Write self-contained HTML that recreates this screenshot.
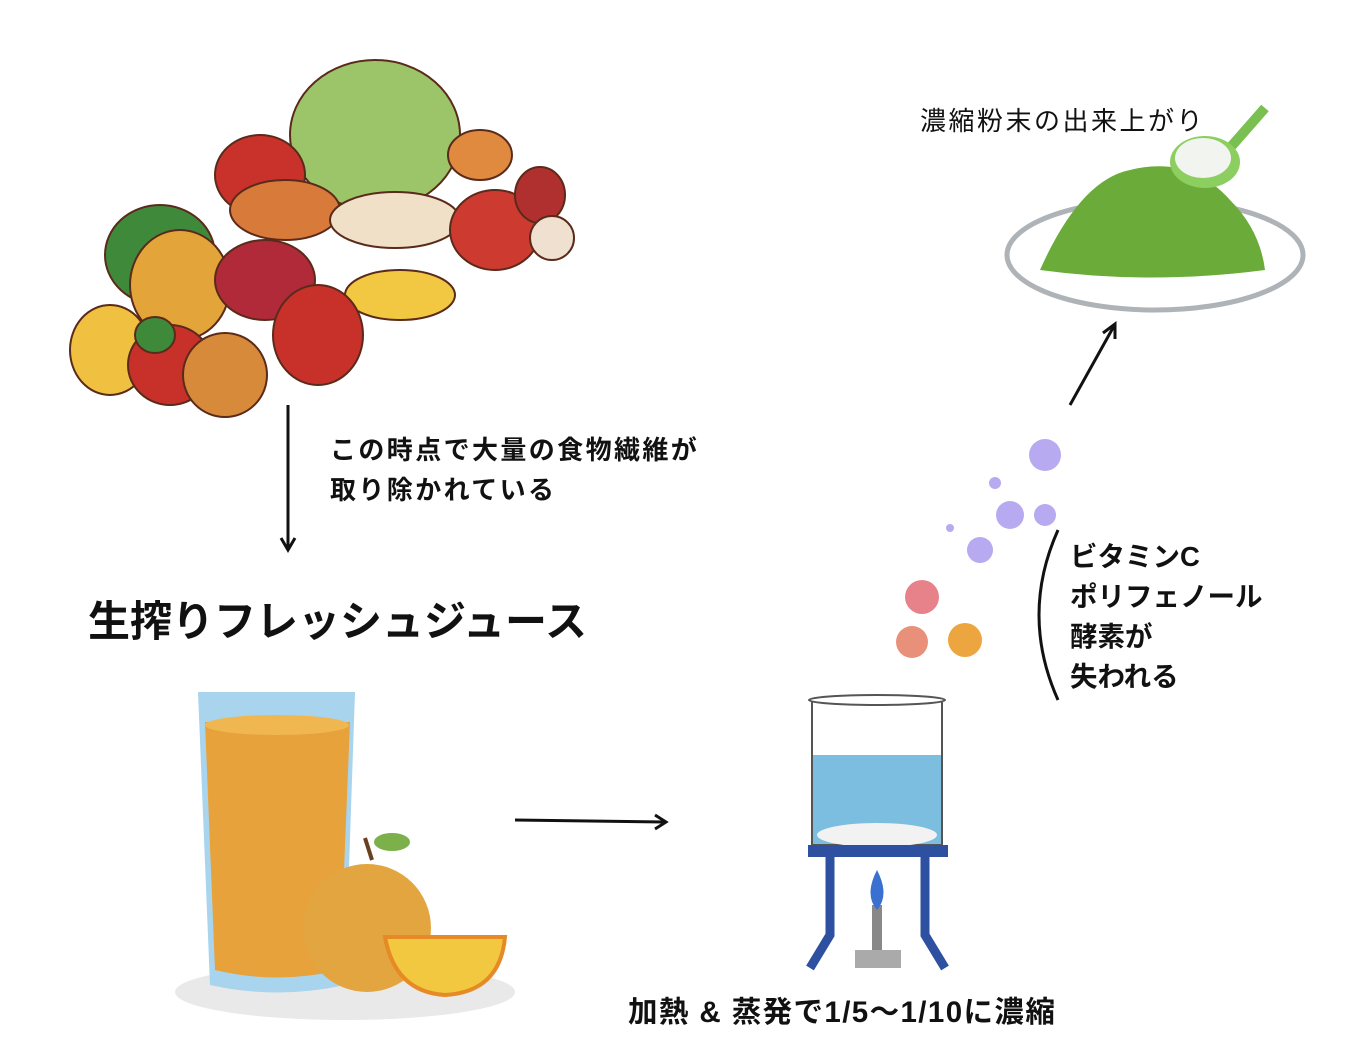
<!DOCTYPE html>
<html><head><meta charset="utf-8"><style>
html,body{margin:0;padding:0;background:#fff;}
body{width:1366px;height:1051px;position:relative;overflow:hidden;font-family:"Liberation Sans","Noto Sans CJK JP",sans-serif;}
.t{position:absolute;white-space:nowrap;color:#111;}
.b{font-weight:bold;}
</style></head><body>
<svg width="1366" height="1051" style="position:absolute;left:0;top:0">
<g stroke="#5a2a1a" stroke-width="2">
<ellipse cx="375" cy="135" rx="85" ry="75" fill="#9cc56a"/>
<ellipse cx="260" cy="175" rx="45" ry="40" fill="#c8322b"/>
<ellipse cx="480" cy="155" rx="32" ry="25" fill="#e08a40"/>
<ellipse cx="160" cy="255" rx="55" ry="50" fill="#3e8a3a"/>
<ellipse cx="180" cy="285" rx="50" ry="55" fill="#e3a53a"/>
<ellipse cx="285" cy="210" rx="55" ry="30" fill="#d87a3a"/>
<ellipse cx="395" cy="220" rx="65" ry="28" fill="#f0e0c8"/>
<ellipse cx="495" cy="230" rx="45" ry="40" fill="#cc3a30"/>
<ellipse cx="540" cy="195" rx="25" ry="28" fill="#b03030"/>
<ellipse cx="552" cy="238" rx="22" ry="22" fill="#f0e0d0"/>
<ellipse cx="400" cy="295" rx="55" ry="25" fill="#f2c842"/>
<ellipse cx="265" cy="280" rx="50" ry="40" fill="#b02a3a"/>
<ellipse cx="110" cy="350" rx="40" ry="45" fill="#f0c040"/>
<ellipse cx="170" cy="365" rx="42" ry="40" fill="#c8302a"/>
<ellipse cx="225" cy="375" rx="42" ry="42" fill="#d68a3a"/>
<ellipse cx="318" cy="335" rx="45" ry="50" fill="#c8302a"/>
<ellipse cx="155" cy="335" rx="20" ry="18" fill="#3e8a3a"/>
</g>
<g stroke="#111" stroke-width="3" fill="none">
<line x1="288" y1="405" x2="288" y2="548"/><polyline points="281,538 288,550 295,538"/>
<line x1="515" y1="820" x2="664" y2="822"/><polyline points="655,815 666,822 655,829"/>
<line x1="1070" y1="405" x2="1114" y2="326"/><polyline points="1103,333 1115,324 1115,339"/>
<path d="M1058,530 Q1020,615 1058,700"/>
</g>
<ellipse cx="1155" cy="255" rx="148" ry="55" fill="#fff" stroke="#aeb3b8" stroke-width="5"/>
<path d="M1040,270 Q1080,180 1130,170 Q1190,155 1230,200 Q1260,230 1265,270 Q1150,285 1040,270Z" fill="#6aab3a"/>
<line x1="1215" y1="165" x2="1265" y2="108" stroke="#7ac050" stroke-width="10"/>
<ellipse cx="1205" cy="162" rx="35" ry="26" fill="#8ccf60"/>
<ellipse cx="1203" cy="158" rx="28" ry="20" fill="#f2f4ef"/>
<g fill="#b8aaf0">
<circle cx="1045" cy="455" r="16"/><circle cx="1010" cy="515" r="14"/><circle cx="1045" cy="515" r="11"/>
<circle cx="980" cy="550" r="13"/><circle cx="995" cy="483" r="6"/><circle cx="950" cy="528" r="4"/>
</g>
<circle cx="922" cy="597" r="17" fill="#e8828a"/>
<circle cx="912" cy="642" r="16" fill="#e9907a"/>
<circle cx="965" cy="640" r="17" fill="#eda540"/>
<rect x="812" y="755" width="130" height="90" fill="#7bbee0"/>
<path d="M812,700 L812,845 L942,845 L942,700" fill="none" stroke="#555" stroke-width="2"/>
<ellipse cx="877" cy="700" rx="68" ry="5" fill="#fff" stroke="#555" stroke-width="2"/>
<ellipse cx="877" cy="835" rx="60" ry="12" fill="#f2f2f2"/>
<rect x="808" y="845" width="140" height="12" fill="#2d50a0"/>
<g stroke="#2d50a0" stroke-width="9" fill="none">
<polyline points="830,857 830,935 810,968"/><polyline points="925,857 925,935 945,968"/>
</g>
<rect x="872" y="905" width="10" height="45" fill="#888"/>
<rect x="855" y="950" width="46" height="18" fill="#aaa"/>
<path d="M877,870 Q890,895 877,910 Q864,895 877,870Z" fill="#3a70d0"/>
<ellipse cx="345" cy="992" rx="170" ry="28" fill="#e9e9e9"/>
<path d="M198,692 L355,692 L345,985 Q277,1000 210,985Z" fill="#a8d4ee"/>
<path d="M205,722 L350,722 L340,970 Q277,985 215,970Z" fill="#e8a23c"/>
<ellipse cx="277" cy="725" rx="72" ry="10" fill="#f0b650"/>
<circle cx="367" cy="928" r="64" fill="#e3a540"/>
<path d="M385,937 L505,937 Q500,992 445,995 Q395,992 385,937Z" fill="#f2c840" stroke="#e58a25" stroke-width="4"/>
<path d="M372,860 L365,838" stroke="#6a4020" stroke-width="4"/>
<ellipse cx="392" cy="842" rx="18" ry="9" fill="#7bb04a"/>
</svg>
<div class="t" style="left:920px;top:101px;font-size:26px;letter-spacing:2.5px">濃縮粉末の出来上がり</div>
<div class="t b" style="left:330px;top:430px;font-size:26px;line-height:40px;letter-spacing:2.4px">この時点で大量の食物繊維が<br>取り除かれている</div>
<div class="t b" style="left:88px;top:588px;font-size:42px">生搾りフレッシュジュース</div>
<div class="t b" style="left:1070px;top:537px;font-size:27.5px;line-height:40px">ビタミンC<br>ポリフェノール<br>酵素が<br>失われる</div>
<div class="t b" style="left:628px;top:989px;font-size:29.5px;letter-spacing:1.4px">加熱 &amp; 蒸発で1/5〜1/10に濃縮</div>
</body></html>
